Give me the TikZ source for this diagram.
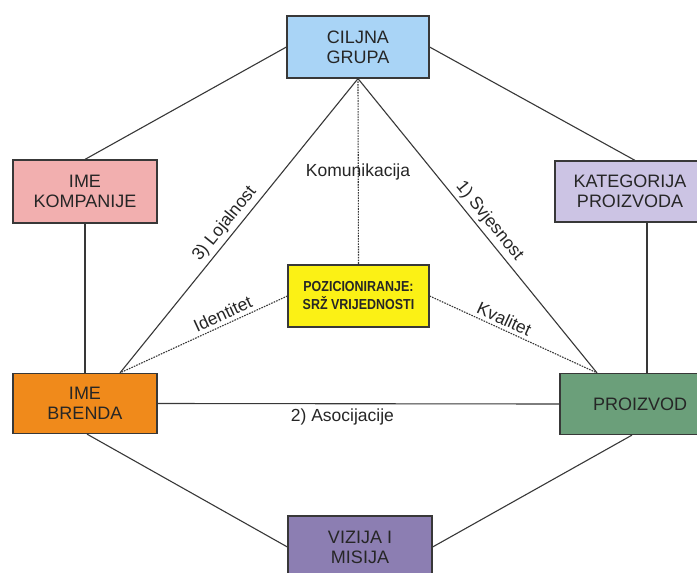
\documentclass[tikz,border=0pt]{standalone}
\usepackage{fontspec}
\setmainfont{Liberation Sans}
\newfontfamily\narrowfont[FakeStretch=0.86]{Liberation Sans}
\begin{document}
\begin{tikzpicture}[x=1pt,y=-1pt,
  box/.style={draw=black!78,line width=1.2pt,align=center,inner sep=0pt,
    font=\fontsize{18}{20}\selectfont,text=black!85},
  conn/.style={draw=black!78,line width=1.1pt},
  dotc/.style={draw=black!78,line width=1.1pt,dash pattern=on 1.6pt off 1.1pt},
  lab/.style={font=\fontsize{17.5}{19}\selectfont,text=black!85,inner sep=3.5pt}]
\definecolor{cgc}{HTML}{A9D4F6}
\definecolor{ikc}{HTML}{F2AFAF}
\definecolor{kpc}{HTML}{CCC4E4}
\definecolor{pozc}{HTML}{FBF115}
\definecolor{brc}{HTML}{F08A1B}
\definecolor{prc}{HTML}{6B9F7A}
\definecolor{vzc}{HTML}{8C7EB2}
\fill[white] (0,0) rectangle (697,573);
\useasboundingbox (0,0) rectangle (697,573);
\clip (0,0) rectangle (697,573);
\coordinate (bx) at (120,0);
\coordinate (px) at (597,0);
\coordinate (vl) at (647,0);
\coordinate (bbx) at (87,0);
\coordinate (pbx) at (632,0);
\node[box,fill=cgc,minimum width=142pt,minimum height=62pt] (cg) at (358,47) {CILJNA\\GRUPA};
\node[box,fill=ikc,minimum width=144pt,minimum height=63pt] (ik) at (85,191.5) {IME\\KOMPANIJE};
\node[box,fill=kpc,minimum width=160pt,minimum height=61pt] (kp) at (635,191.5) {\hspace*{-10pt}KATEGORIJA\\\hspace*{-10pt}PROIZVODA};
\node[box,fill=pozc,minimum width=141pt,minimum height=62pt,font=\narrowfont\bfseries\fontsize{14.5}{18}\selectfont] (poz) at (358.5,296) {POZICIONIRANJE:\\SRŽ VRIJEDNOSTI};
\node[box,fill=brc,minimum width=144pt,minimum height=60pt] (br) at (85,403.5) {IME\\BRENDA};
\node[box,fill=prc,minimum width=160pt,minimum height=61pt] (pr) at (640,404) {PROIZVOD};
\node[box,fill=vzc,minimum width=144pt,minimum height=62pt] (vz) at (360,547) {VIZIJA I\\MISIJA};
% outer hexagon
\draw[conn] (cg.west) -- (ik.north);
\draw[conn] (cg.east) -- (kp.north);
\draw[conn] (ik.south) -- (br.north);
\draw[conn] (kp.south -| vl) -- (pr.north -| vl);
\draw[conn] (br.south -| bbx) -- (vz.west);
\draw[conn] (pr.south -| pbx) -- (vz.east);
% inner
\draw[conn] (br.east) -- node[lab,below,pos=0.46,inner sep=5pt] {2) Asocijacije} (pr.west);
\draw[conn] (cg.south) -- node[lab,sloped,above,pos=0.52] {3) Lojalnost} (br.north -| bx);
\draw[conn] (cg.south) -- node[lab,sloped,above,pos=0.51] {1) Svjesnost} (pr.north -| px);
\draw[dotc] (cg.south) -- (poz.north);
\node[lab] (kom) at (358,172) {Komunikacija};
\draw[dotc] (poz.west) -- node[lab,sloped,above,pos=0.36] {Identitet} (br.north -| bx);
\draw[dotc] (poz.east) -- node[lab,sloped,above,pos=0.42] {Kvalitet} (pr.north -| px);
\end{tikzpicture}
\end{document}
